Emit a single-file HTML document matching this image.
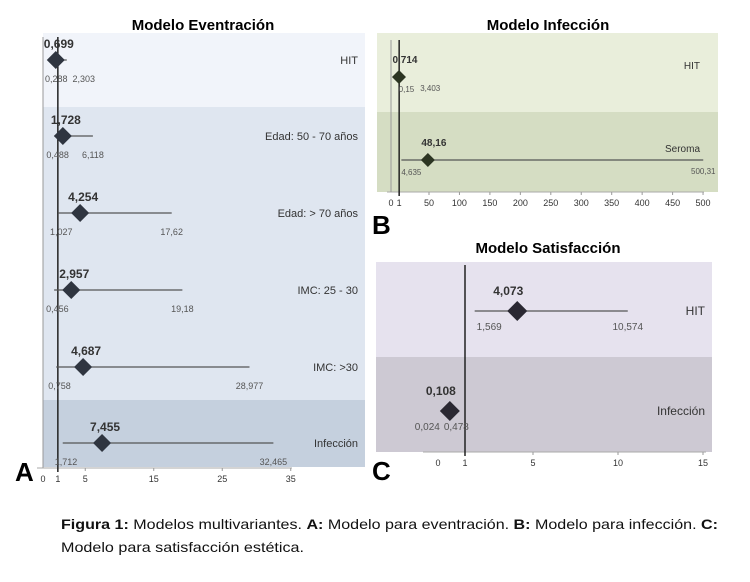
<!DOCTYPE html>
<html><head><meta charset="utf-8"><style>
body{margin:0;background:#fff;width:750px;height:582px;overflow:hidden}
svg{display:block;font-family:"Liberation Sans",sans-serif}
</style></head><body>
<svg id="fig" width="750" height="582" viewBox="0 0 750 582">
<g id="A">
 <text x="203" y="30" text-anchor="middle" font-weight="bold" font-size="15">Modelo Eventración</text>
 <rect x="43" y="33" width="322" height="74" fill="#f1f4fa"/>
 <rect x="43" y="107" width="322" height="293" fill="#dfe6f0"/>
 <rect x="43" y="400" width="322" height="67" fill="#c5d0de"/>
 <text x="15" y="481" font-weight="bold" font-size="26">A</text>
</g>
<g id="B">
 <text x="548" y="30" text-anchor="middle" font-weight="bold" font-size="15">Modelo Infección</text>
 <rect x="377" y="33" width="341" height="79" fill="#e9eedb"/>
 <rect x="377" y="112" width="341" height="80" fill="#d5ddc3"/>
 <text x="372" y="234" font-weight="bold" font-size="26">B</text>
</g>
<g id="C">
 <text x="548" y="253" text-anchor="middle" font-weight="bold" font-size="15">Modelo Satisfacción</text>
 <rect x="376" y="262" width="336" height="95" fill="#e6e2ee"/>
 <rect x="376" y="357" width="336" height="95" fill="#cdc9d3"/>
 <text x="372" y="480" font-weight="bold" font-size="26">C</text>
</g>
<g font-size="14" fill="#111">
 <text x="61" y="529" textLength="657" lengthAdjust="spacingAndGlyphs"><tspan font-weight="bold">Figura 1:</tspan> Modelos multivariantes. <tspan font-weight="bold">A:</tspan> Modelo para eventración. <tspan font-weight="bold">B:</tspan> Modelo para infección. <tspan font-weight="bold">C:</tspan></text>
 <text x="61" y="552" textLength="243" lengthAdjust="spacingAndGlyphs">Modelo para satisfacción estética.</text>
</g>
</svg>
<script>
// Panel A data
const aLabels = ["HIT","Edad: 50 - 70 años","Edad: > 70 años","IMC: 25 - 30","IMC: >30","Infección"];
const aOR = [0.699,1.728,4.254,2.957,4.687,7.455];
const aLow = [0.288,0.488,1.027,0.456,0.758,1.712];
const aHigh = [2.303,6.118,17.62,19.18,28.977,32.465];
const aORText = ["0,699","1,728","4,254","2,957","4,687","7,455"];
const aLowText = ["0,288","0,488","1,027","0,456","0,758","1,712"];
const aHighText = ["2,303","6,118","17,62","19,18","28,977","32,465"];
const aTicks = [1,5,15,25,35];
// Panel B data
const bLabels = ["HIT","Seroma"];
const bOR = [0.714,48.16];
const bLow = [0.15,4.635];
const bHigh = [3.403,500.31];
const bORText = ["0,714","48,16"];
const bLowText = ["0,15","4,635"];
const bHighText = ["3,403","500,31"];
const bTicks = [1,50,100,150,200,250,300,350,400,450,500];
// Panel C data
const cLabels = ["HIT","Infección"];
const cOR = [4.073,0.108];
const cLow = [1.569,0.024];
const cHigh = [10.574,0.478];
const cORText = ["4,073","0,108"];
const cLowText = ["1,569","0,024"];
const cHighText = ["10,574","0,478"];
const cTicks = [1,5,10,15];

const NS="http://www.w3.org/2000/svg";
function mk(parent,tag,attrs,txt){const e=document.createElementNS(NS,tag);for(const k in attrs)e.setAttribute(k,attrs[k]);if(txt!==undefined)e.textContent=txt;parent.appendChild(e);return e;}

function panel(id,cfg){
  const g=document.getElementById(id);
  const x=cfg.x;
  const ax=mk(g,'line',{x1:cfg.axL,x2:cfg.axR,y1:cfg.axY,y2:cfg.axY,stroke:'#aaa','stroke-width':1});
  
  
  const z=mk(g,'text',{x:cfg.zeroX,y:cfg.axY+14,'font-size':9,'text-anchor':'middle',fill:'#333'},'0');
  
  
  if(cfg.leftLine){const l=mk(g,'line',{x1:cfg.zeroX,x2:cfg.zeroX,y1:cfg.top,y2:cfg.axY,stroke:'#999','stroke-width':1});
    
    }
  cfg.ticks.forEach(t=>{
    const tx=x(t);
    const tk=mk(g,'line',{x1:tx,x2:tx,y1:cfg.axY,y2:cfg.axY+3,stroke:'#999'});
    
    
    const tl=mk(g,'text',{x:tx,y:cfg.axY+14,'font-size':9,'text-anchor':'middle',fill:'#333'},String(t));
    
    
  });
  const ref=mk(g,'line',{x1:x(1),x2:x(1),y1:cfg.top,y2:cfg.axY+4,stroke:'#222','stroke-width':1.5});
  
  
  cfg.or.forEach((v,i)=>{
    const y=cfg.rowY[i];
    const ci=mk(g,'line',{x1:x(cfg.low[i]),x2:x(cfg.high[i]),y1:y,y2:y,stroke:'#555','stroke-width':1.2});
    
    
    const cx=x(v),s=cfg.d;
    const dm=mk(g,'polygon',{points:`${cx},${y-s} ${cx+s},${y} ${cx},${y+s} ${cx-s},${y}`,fill:cfg.dfill});
    
    
    const ot=mk(g,'text',{x:cx+cfg.orDx,y:y-cfg.orDy,'font-size':cfg.orFs,'font-weight':'bold',fill:'#333','text-anchor':'middle'},cfg.orT[i]);
    
    
    const narrow = cfg.lowLeftOfDiamond && (x(cfg.high[i])-x(cfg.low[i]) < 2*s);
    let lx = Math.max(x(cfg.low[i]) - cfg.lowShift, cfg.minLowX);
    const lt=mk(g,'text',{x:lx,y:y+cfg.ciDy,'font-size':cfg.ciFs,fill:'#555','text-anchor':'start'},cfg.lowT[i]);
    
    
    const lw = lt.getComputedTextLength();
    const hx=x(cfg.high[i]);
    const ht=mk(g,'text',{x:0,y:y+cfg.ciDy+cfg.hDy,'font-size':cfg.ciFs,fill:'#555','text-anchor':'start'},cfg.highT[i]);
    
    
    const hw = ht.getComputedTextLength();
    if(narrow){
      ht.setAttribute('x', cx - s + 4);
      lt.setAttribute('x', cx - s - lw);
    } else {
      ht.setAttribute('x', Math.max(hx - hw/2, lx + lw + cfg.gap));
    }
    const rl=mk(g,'text',{x:cfg.labX,y:y+(cfg.labDy||4),'font-size':cfg.labFs,fill:'#333','text-anchor':'end'},cfg.labels[i]);
    
    
  });
}

panel('A',{x:v=>51+6.85*v,ticks:aTicks,axL:37,axR:292,axY:468,zeroX:43,leftLine:true,top:37,
  rowY:[60,136,213,290,367,443],or:aOR,low:aLow,high:aHigh,orT:aORText,lowT:aLowText,highT:aHighText,labels:aLabels,
  d:9,dfill:'#2f3540',orDx:3,orDy:12,orFs:12,ciFs:9,ciDy:22,hDy:0,gap:5,lowShift:8,minLowX:44,labX:358,labFs:11});
panel('B',{x:v=>429+(v-50)*0.609,ticks:bTicks,axL:387,axR:704,axY:192,zeroX:391,leftLine:true,top:40,
  rowY:[77,160],or:bOR,low:bLow,high:bHigh,orT:bORText,lowT:bLowText,highT:bHighText,labels:bLabels,
  d:7,dfill:'#2c3522',orDx:6,orDy:14,orFs:10,ciFs:8,ciDy:15,hDy:-1,gap:6,lowShift:0,minLowX:381,labX:700,labFs:10,labDy:-8});
panel('C',{x:v=>448+17*v,ticks:cTicks,axL:423,axR:706,axY:452,zeroX:438,leftLine:false,top:265,lowLeftOfDiamond:true,
  rowY:[311,411],or:cOR,low:cLow,high:cHigh,orT:cORText,lowT:cLowText,highT:cHighText,labels:cLabels,
  d:10,dfill:'#2a2832',orDx:-9,orDy:16,orFs:12,ciFs:10,ciDy:19,hDy:0,gap:6,lowShift:-2,minLowX:400,labX:705,labFs:12});
</script>
</body></html>
